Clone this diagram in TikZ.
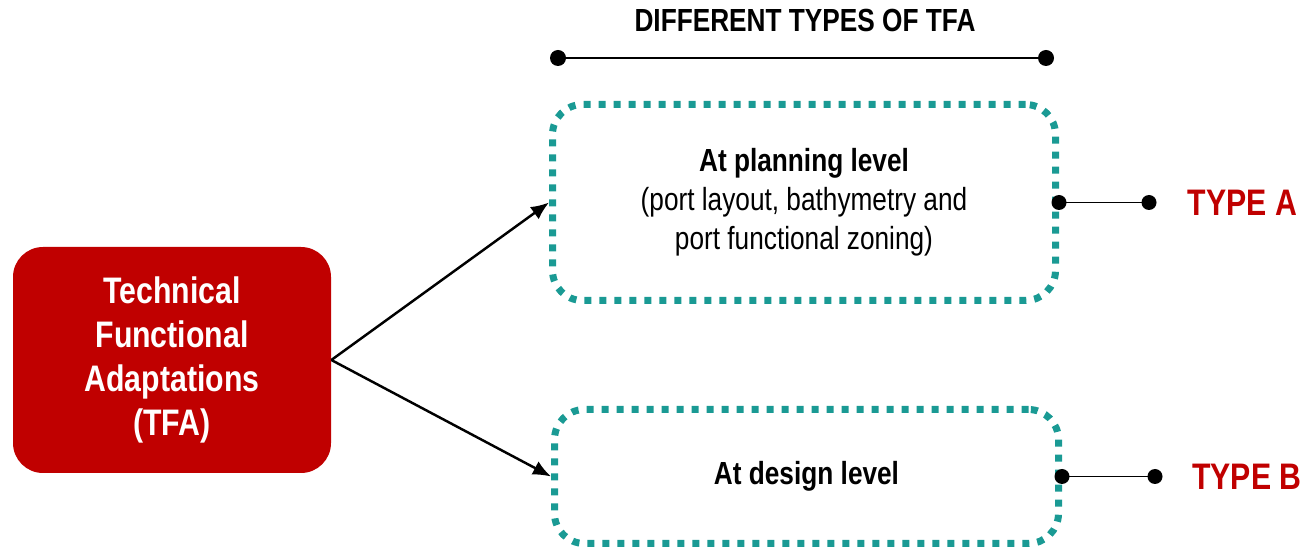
\documentclass[tikz,border=0pt]{standalone}
\usepackage{fontspec}
\setmainfont{Liberation Sans}[FakeStretch=0.82]
\usetikzlibrary{arrows.meta}
\definecolor{tfared}{RGB}{192,0,0}
\definecolor{tfateal}{RGB}{26,154,148}
\tikzset{
  tfabox/.style={fill=tfared,rounded corners=0.6cm,minimum width=6.36cm,minimum height=4.52cm,
    align=center,text=white,font=\fontsize{21pt}{25pt}\selectfont\bfseries},
  levelbox/.style={draw=tfateal,line width=0.14cm,dash pattern=on 0.14cm off 0.16cm,
    rounded corners=0.6cm,align=center,font=\fontsize{18.2pt}{22.2pt}\selectfont},
  branch/.style={line width=1.4pt,-{Latex[length=0.36cm,width=0.3cm]}},
  typeline/.style={line width=1.1pt},
  typelabel/.style={anchor=west,text=tfared,font=\fontsize{21pt}{25pt}\selectfont\bfseries},
}
\begin{document}
\begin{tikzpicture}
\useasboundingbox (0,0) rectangle (26.14,11.08);
% main box and the two levels
\node[tfabox] (tfa) at (3.44,3.88) {Technical\\Functional\\Adaptations\\(TFA)};
\node[levelbox,minimum width=10.06cm,minimum height=3.92cm] (planning) at (16.08,7.03)
  {\textbf{At planning level}\\(port layout, bathymetry and\\port functional zoning)};
\node[levelbox,minimum width=10.08cm,minimum height=2.68cm] (design) at (16.13,1.55)
  {\textbf{At design level}};
\draw[branch] (tfa.east) -- (planning.west);
\draw[branch] (tfa.east) -- (design.west);
% heading bar
\node[font=\fontsize{18.2pt}{22pt}\selectfont\bfseries] (head) at (16.1,10.68) {DIFFERENT TYPES OF TFA};
\coordinate (h1) at (11.16,9.92);
\coordinate (h2) at (20.92,9.92);
\draw[line width=1.3pt] (h1) -- (h2);
\fill (h1) circle (0.16) (h2) circle (0.16);
% type tags
\coordinate (ta) at (22.98,7.03);
\coordinate (tb) at (23.10,1.55);
\draw[typeline] (planning.east) -- (ta);
\draw[typeline] (design.east) -- (tb);
\fill (planning.east) circle (0.15) (ta) circle (0.15);
\fill (design.east) circle (0.15) (tb) circle (0.15);
\node[typelabel] (typea) at (23.63,7.03) {TYPE A};
\node[typelabel] (typeb) at (23.72,1.55) {TYPE B};
\end{tikzpicture}
\end{document}
